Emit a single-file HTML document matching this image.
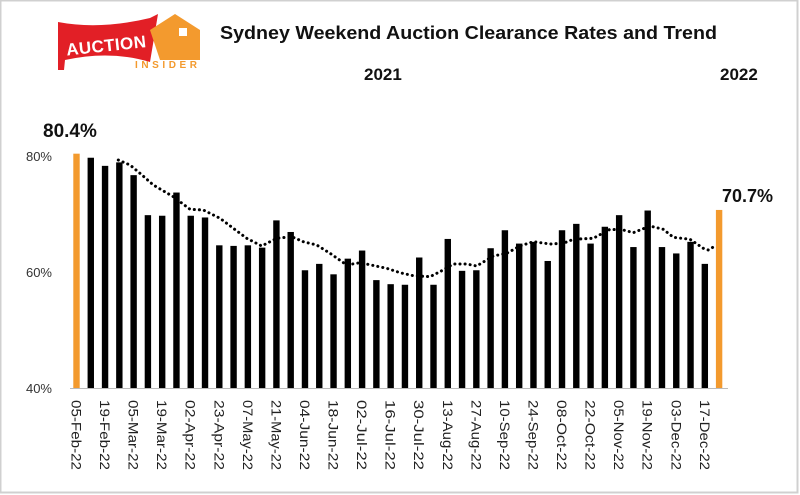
<!DOCTYPE html>
<html><head><meta charset="utf-8"><style>
html,body{margin:0;padding:0;background:#fff;}
svg{display:block;font-family:"Liberation Sans",sans-serif;}
</style></head><body>
<svg width="800" height="495" viewBox="0 0 800 495" xmlns="http://www.w3.org/2000/svg">
<rect x="0.5" y="0.5" width="797" height="492" fill="#fff" stroke="#d0d0d0" stroke-width="2"/>
<path d="M58,22 Q100,30 150,18 L158,14 L150,62 Q110,50 65,60 L64,70 L58,70 Z" fill="#e21f26"/>
<path d="M150,30 L175,14 L200,30 L200,60 L160,60 Z" fill="#f39a2e"/>
<rect x="179" y="28" width="8" height="8" fill="#fff"/>
<text x="66" y="52" font-size="17" font-weight="bold" fill="#fff" transform="rotate(-6 100 45)" textLength="80">AUCTION</text>
<text x="135" y="68" font-size="10" font-weight="bold" fill="#f39a2e" textLength="62">INSIDER</text>
<text x="220" y="39" font-size="18" font-weight="bold" fill="#111" textLength="497" lengthAdjust="spacingAndGlyphs">Sydney Weekend Auction Clearance Rates and Trend</text>
<text x="364" y="80" font-size="17" font-weight="bold" fill="#111">2021</text>
<text x="720" y="80" font-size="17" font-weight="bold" fill="#111">2022</text>
<text x="43" y="137" font-size="19" font-weight="bold" fill="#111">80.4%</text>
<text x="722" y="202" font-size="18" font-weight="bold" fill="#111">70.7%</text>
<text x="52" y="161" font-size="13" fill="#333" text-anchor="end">80%</text>
<text x="52" y="277" font-size="13" fill="#333" text-anchor="end">60%</text>
<text x="52" y="393" font-size="13" fill="#333" text-anchor="end">40%</text>
<g id="bars"></g>
<line x1="70" y1="388.5" x2="728" y2="388.5" stroke="#bbb" stroke-width="1"/>
<polyline fill="none" stroke="#000" stroke-width="3" stroke-dasharray="0.1 5" stroke-linecap="round" points="118.3,160 130,165 140,173.3 153.3,185 173.3,196.7 190,209.3 203.3,210 220,218.3 233.3,228.3 246.7,238.3 261.7,246 276.7,238.3 291.7,236.7 303.3,241.7 316.7,245 330,253.3 346.7,265 360,262.7 386.7,268.3 400,272.7 413.3,275.7 430,276.7 440,271.7 453.3,264 466.7,264 476.7,266 493.3,256 506.7,253.3 520,246 533.3,241.7 550,244 563.3,243.3 573.3,239.3 593.3,238.3 610,229.3 623.3,230 633.3,232.7 650,226 663.3,229.3 673.3,237.3 690,239.3 703.3,248.3 708.3,250 715,246"/>
<g id="labels" font-size="14" fill="#222"></g>
</svg>
<script>
var v=[80.4,79.7,78.3,78.9,76.7,69.8,69.7,73.7,69.7,69.4,64.6,64.5,64.6,64.2,68.9,66.9,60.3,61.4,59.6,62.3,63.7,58.6,57.9,57.8,62.5,57.8,65.7,60.2,60.3,64.1,67.2,64.9,65.2,61.9,67.2,68.3,64.9,67.8,69.8,64.3,70.6,64.3,63.2,65.2,61.4,70.7];
var L=["05-Feb-22","19-Feb-22","05-Mar-22","19-Mar-22","02-Apr-22","23-Apr-22","07-May-22","21-May-22","04-Jun-22","18-Jun-22","02-Jul-22","16-Jul-22","30-Jul-22","13-Aug-22","27-Aug-22","10-Sep-22","24-Sep-22","08-Oct-22","22-Oct-22","05-Nov-22","19-Nov-22","03-Dec-22","17-Dec-22"];
var ns="http://www.w3.org/2000/svg",g=document.getElementById("bars"),gl=document.getElementById("labels");
v.forEach(function(d,i){var x=76.5+i*14.28,y=388-(d-40)*5.8,r=document.createElementNS(ns,"rect");
r.setAttribute("x",x-3.2);r.setAttribute("y",y);r.setAttribute("width",6.4);r.setAttribute("height",388-y);
r.setAttribute("fill",(i==0||i==45)?"#f39a2e":"#000");g.appendChild(r);});
L.forEach(function(t,k){var x=76.5+k*2*14.28,e=document.createElementNS(ns,"text");
e.setAttribute("transform","translate("+(x-5)+",400) rotate(90)");e.setAttribute("textLength",70);e.setAttribute("lengthAdjust","spacingAndGlyphs");e.textContent=t;gl.appendChild(e);});
</script>
</body></html>
